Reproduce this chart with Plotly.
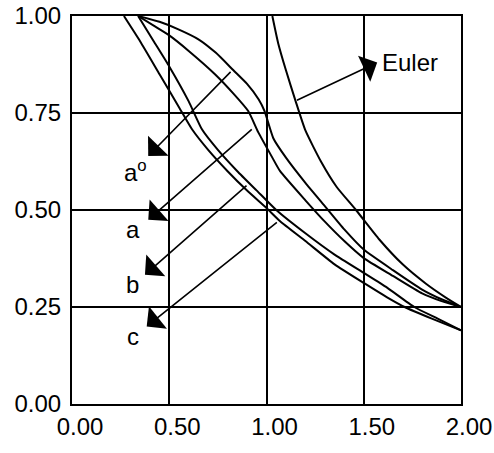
import plotly.graph_objects as go

# ---- data ----
lam_euler = [1.03, 1.06, 1.10, 1.15, 1.20, 1.28, 1.36, 1.46, 1.58, 1.70, 1.82, 1.92, 2.00]
chi_euler = [1.00, 0.93, 0.86, 0.78, 0.705, 0.625, 0.56, 0.50, 0.424, 0.36, 0.31, 0.275, 0.25]

lam_a0 = [0.34, 0.45, 0.55, 0.65, 0.74, 0.83, 0.90, 0.96, 0.99, 1.035, 1.10, 1.20, 1.30, 1.40, 1.50, 1.65, 1.80, 1.90, 2.00]
chi_a0 = [1.00, 0.985, 0.965, 0.94, 0.905, 0.86, 0.825, 0.785, 0.755, 0.685, 0.635, 0.57, 0.51, 0.45, 0.398, 0.345, 0.295, 0.27, 0.25]

lam_a = [0.34, 0.42, 0.50, 0.60, 0.735, 0.83, 0.906, 0.958, 1.03, 1.07, 1.20, 1.30, 1.40, 1.50, 1.65, 1.80, 1.90, 2.00]
chi_a = [1.00, 0.975, 0.95, 0.91, 0.85, 0.80, 0.755, 0.70, 0.635, 0.60, 0.525, 0.47, 0.42, 0.376, 0.33, 0.285, 0.265, 0.25]

lam_b = [0.34, 0.42, 0.50, 0.60, 0.668, 0.75, 0.85, 0.95, 1.05, 1.20, 1.35, 1.50, 1.62, 1.76, 1.88, 2.00]
chi_b = [1.00, 0.935, 0.87, 0.78, 0.708, 0.655, 0.60, 0.55, 0.50, 0.44, 0.385, 0.338, 0.30, 0.25, 0.22, 0.19]

lam_c = [0.267, 0.35, 0.45, 0.55, 0.617, 0.70, 0.80, 0.90, 1.00, 1.07, 1.20, 1.35, 1.50, 1.62, 1.71, 1.85, 2.00]
chi_c = [1.00, 0.935, 0.85, 0.765, 0.708, 0.655, 0.60, 0.55, 0.505, 0.471, 0.42, 0.36, 0.312, 0.275, 0.25, 0.22, 0.19]

x_ticks = [0.0, 0.5, 1.0, 1.5, 2.0]
x_ticktext = ["0.00", "0.50", "1.00", "1.50", "2.00"]
y_ticks = [0.0, 0.25, 0.5, 0.75, 1.0]
y_ticktext = ["0.00", "0.25", "0.50", "0.75", "1.00"]

# curve labels: text, arrow tail (on curve), arrow head, label position
label_text = ["a<sup>o</sup>", "a", "b", "c", "Euler"]
tail_x = [0.823, 0.932, 0.905, 1.061, 1.149]
tail_y = [0.860, 0.711, 0.566, 0.471, 0.781]
head_x = [0.392, 0.392, 0.375, 0.384, 1.569]
head_y = [0.639, 0.475, 0.333, 0.200, 0.880]
text_x = [0.325, 0.315, 0.31, 0.315, 1.585]
text_y = [0.600, 0.450, 0.307, 0.174, 0.880]
text_anchor = ["center", "center", "center", "center", "left"]

FONT = "Liberation Sans, Arial, sans-serif"
FS = 24

fig = go.Figure()
for lx, ly in [(lam_euler, chi_euler), (lam_a0, chi_a0), (lam_a, chi_a),
               (lam_b, chi_b), (lam_c, chi_c)]:
    fig.add_trace(go.Scatter(x=lx, y=ly, mode="lines",
                             line=dict(color="black", width=2, shape="spline", smoothing=0.5),
                             showlegend=False, hoverinfo="skip"))

for i in range(len(label_text)):
    fig.add_annotation(x=head_x[i], y=head_y[i], ax=tail_x[i], ay=tail_y[i],
                       xref="x", yref="y", axref="x", ayref="y",
                       text="", showarrow=True, arrowhead=1, arrowsize=3,
                       arrowwidth=1.6, arrowcolor="black", standoff=0, startstandoff=0)
    fig.add_annotation(x=text_x[i], y=text_y[i], xref="x", yref="y",
                       text=label_text[i], showarrow=False, xanchor=text_anchor[i],
                       yanchor="middle", font=dict(family=FONT, size=FS, color="black"))

fig.update_xaxes(range=[0, 2], tickvals=x_ticks, ticktext=x_ticktext,
                 showgrid=True, gridcolor="black", gridwidth=2, zeroline=False,
                 showline=True, linecolor="black", linewidth=2, mirror=True,
                 ticks="", ticklabelshift=8, ticklabelstandoff=0,
                 ticklabeloverflow="allow", automargin=False,
                 tickfont=dict(family=FONT, size=FS, color="black"))
fig.update_yaxes(range=[0, 1], tickvals=y_ticks, ticktext=y_ticktext,
                 showgrid=True, gridcolor="black", gridwidth=2, zeroline=False,
                 showline=True, linecolor="black", linewidth=2, mirror=True,
                 ticks="", ticklabelstandoff=4, ticklabeloverflow="allow",
                 automargin=False,
                 tickfont=dict(family=FONT, size=FS, color="black"))

fig.update_layout(width=494, height=453,
                  margin=dict(l=72, r=33, t=16, b=49, autoexpand=False),
                  plot_bgcolor="white", paper_bgcolor="white")

# remove the browser's default body margin so the figure fills the window
fig.write_html("out.html",
               config={"displayModeBar": False, "staticPlot": True},
               post_script="document.body.style.margin='0px';document.body.style.overflow='hidden';")
